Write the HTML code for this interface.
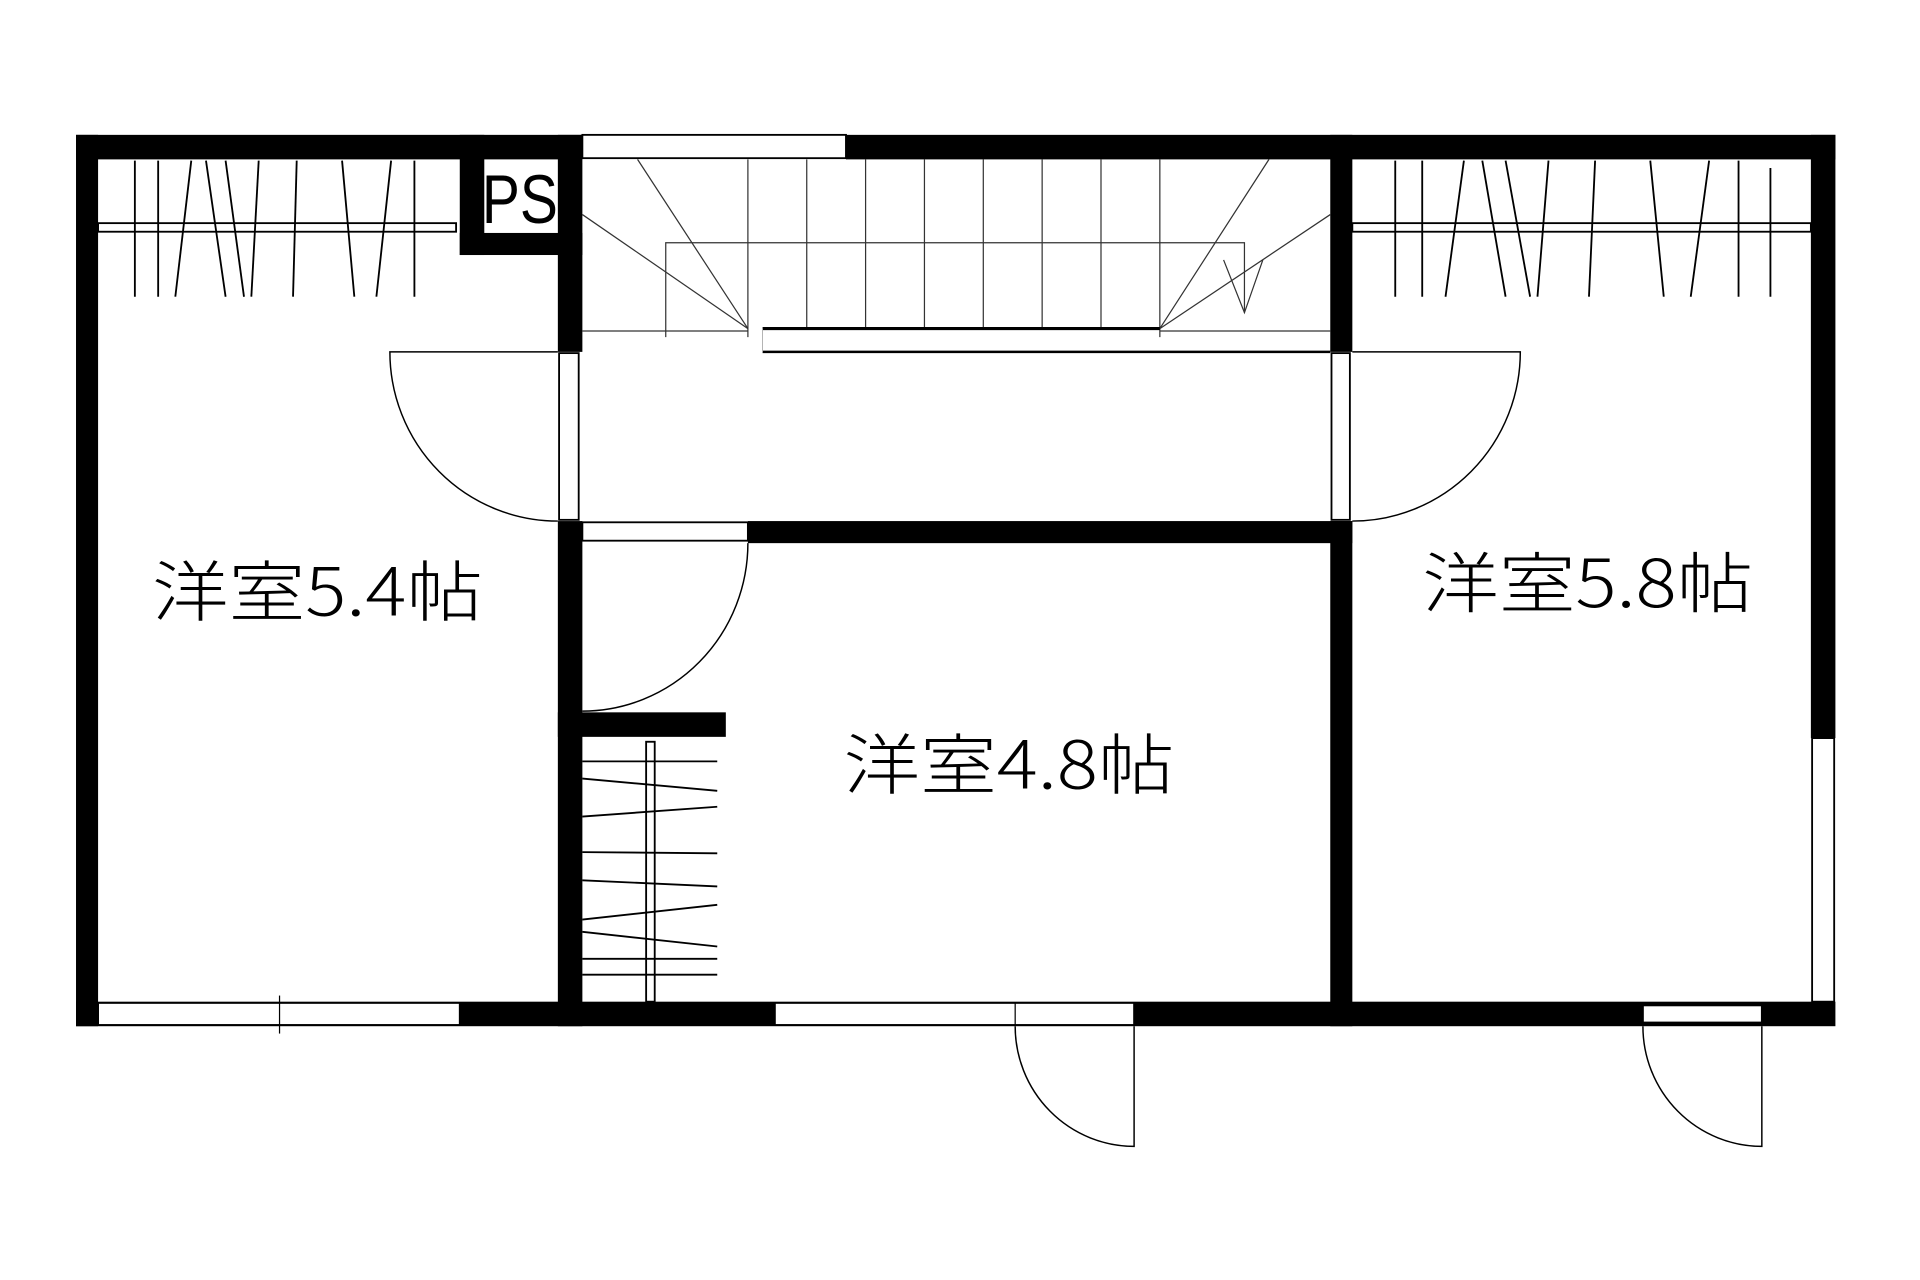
<!DOCTYPE html>
<html><head><meta charset="utf-8"><style>
html,body{margin:0;padding:0;background:#fff;width:1920px;height:1280px;overflow:hidden}
svg{display:block}
.lbl{font-family:"Noto Sans CJK JP",sans-serif;}
</style></head><body>
<svg width="1920" height="1280" viewBox="0 0 1566 1044" preserveAspectRatio="none" xmlns="http://www.w3.org/2000/svg">
<rect width="1566" height="1044" fill="#fff"/>
<g fill="#000">
<rect x="62" y="110" width="413" height="20"/>
<rect x="690" y="110" width="807" height="20"/>
<rect x="62" y="110" width="18" height="727"/>
<rect x="1477" y="110" width="20" height="492"/>
<rect x="62" y="817" width="1435" height="20"/>
<rect x="375" y="110" width="20" height="98"/>
<rect x="375" y="190" width="100" height="18"/>
<rect x="455" y="110" width="20" height="177"/>
<rect x="455" y="425" width="20" height="412"/>
<rect x="1085" y="110" width="18" height="177"/>
<rect x="1085" y="425" width="18" height="412"/>
<rect x="610" y="425" width="493" height="18"/>
<rect x="455" y="581" width="137" height="20"/>
</g>
<g fill="#fff" stroke="#000" stroke-width="1.5">
<rect x="475" y="110" width="215" height="19"/>
<rect x="456" y="288" width="16" height="136"/>
<rect x="1086" y="288" width="15" height="136"/>
<rect x="475" y="426" width="135" height="15"/>
<rect x="1478" y="602" width="18" height="215"/>
<rect x="80" y="818" width="295" height="18"/>
<rect x="632" y="818" width="293" height="18"/>
<rect x="1340" y="820" width="97" height="14"/>
</g>
<g stroke="#000" stroke-width="1" fill="none">
<line x1="228" y1="812" x2="228" y2="843"/>
<line x1="828" y1="818" x2="828" y2="836"/>
<rect x="80" y="182" width="292" height="7" stroke-width="1.5"/>
<rect x="1103" y="182" width="374" height="7" stroke-width="1.5"/>
<rect x="527" y="605" width="7" height="212" stroke-width="1.5"/>
</g>
<g stroke="#000" stroke-width="1.5">
<line x1="110" y1="131" x2="110" y2="242"/>
<line x1="129" y1="131" x2="129" y2="242"/>
<line x1="156" y1="131" x2="143" y2="242"/>
<line x1="168" y1="131" x2="184" y2="242"/>
<line x1="184" y1="131" x2="199" y2="242"/>
<line x1="211" y1="131" x2="205" y2="242"/>
<line x1="242" y1="131" x2="239" y2="242"/>
<line x1="279" y1="131" x2="289" y2="242"/>
<line x1="319" y1="131" x2="307" y2="242"/>
<line x1="338" y1="131" x2="338" y2="242"/>
<line x1="1138" y1="131" x2="1138" y2="242"/>
<line x1="1160" y1="131" x2="1160" y2="242"/>
<line x1="1194" y1="131" x2="1179" y2="242"/>
<line x1="1209" y1="131" x2="1228" y2="242"/>
<line x1="1228" y1="131" x2="1248" y2="242"/>
<line x1="1263" y1="131" x2="1254" y2="242"/>
<line x1="1301" y1="131" x2="1296" y2="242"/>
<line x1="1346" y1="131" x2="1357" y2="242"/>
<line x1="1394" y1="131" x2="1379" y2="242"/>
<line x1="1418" y1="131" x2="1418" y2="242"/>
<line x1="1444" y1="137" x2="1444" y2="242"/>
<line x1="475" y1="621" x2="585" y2="621"/>
<line x1="475" y1="635" x2="585" y2="645"/>
<line x1="475" y1="666" x2="585" y2="658"/>
<line x1="475" y1="695" x2="585" y2="696"/>
<line x1="475" y1="718" x2="585" y2="723"/>
<line x1="475" y1="750" x2="585" y2="738"/>
<line x1="475" y1="760" x2="585" y2="772"/>
<line x1="475" y1="782" x2="585" y2="782"/>
<line x1="475" y1="795" x2="585" y2="795"/>
</g>
<g stroke="#333" stroke-width="1" fill="none">
<line x1="658" y1="130" x2="658" y2="268"/>
<line x1="706" y1="130" x2="706" y2="268"/>
<line x1="754" y1="130" x2="754" y2="268"/>
<line x1="802" y1="130" x2="802" y2="268"/>
<line x1="850" y1="130" x2="850" y2="268"/>
<line x1="898" y1="130" x2="898" y2="268"/>
<line x1="610" y1="130" x2="610" y2="275"/>
<line x1="946" y1="130" x2="946" y2="275"/>
<polyline points="543,275 543,198 1015,198 1015,255"/>
<line x1="475" y1="270" x2="610" y2="270"/>
<line x1="946" y1="270" x2="1085" y2="270"/>
<line x1="610" y1="268" x2="475" y2="175"/>
<line x1="610" y1="268" x2="520" y2="130"/>
<line x1="946" y1="268" x2="1085" y2="175"/>
<line x1="946" y1="268" x2="1035" y2="130"/>
<polyline points="998,212 1015,255 1030,212"/>
</g>
<g stroke="#000" fill="none">
<line x1="622" y1="268" x2="946" y2="268" stroke-width="2.5"/>
<line x1="622" y1="287" x2="1085" y2="287" stroke-width="2"/>
<line x1="622" y1="268" x2="622" y2="287" stroke-width="0.6" stroke="#999"/>
</g>
<g stroke="#000" stroke-width="1.2" fill="none">
<path d="M455 287 H318 A137 138 0 0 0 455 425"/>
<path d="M1103 287 H1240 A137 138 0 0 1 1103 425"/>
<path d="M610 443 A135 137 0 0 1 475 580"/>
<path d="M828 837 A97 98 0 0 0 925 935 V837"/>
<path d="M1340 837 A97 98 0 0 0 1437 935 V837"/>
</g>
<g fill="#000" font-weight="300">
<text x="393" y="182" font-size="56" textLength="62" lengthAdjust="spacingAndGlyphs" font-family="Liberation Sans, sans-serif">PS</text>
<text class="lbl" x="124" y="502" font-size="54" textLength="270" lengthAdjust="spacingAndGlyphs">洋室5.4帖</text>
<text class="lbl" x="688" y="643" font-size="54" textLength="270" lengthAdjust="spacingAndGlyphs">洋室4.8帖</text>
<text class="lbl" x="1160" y="495" font-size="54" textLength="270" lengthAdjust="spacingAndGlyphs">洋室5.8帖</text>
</g>
</svg>
</body></html>
